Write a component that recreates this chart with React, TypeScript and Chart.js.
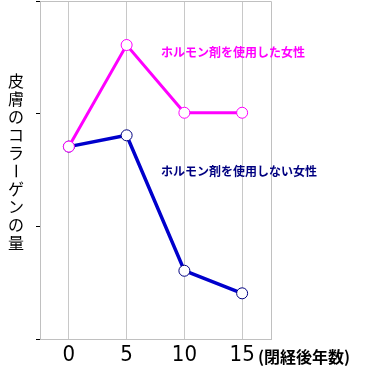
import React, { useEffect, useRef } from "react";
import { Chart, registerables } from "chart.js";

Chart.register(...registerables);

const years = ["0", "5", "10", "15"];
const withHormone = [1.71, 2.61, 2.01, 2.01];
const withoutHormone = [1.71, 1.81, 0.61, 0.41];
const yTicks = [0, 1, 2, 3];
const labelWith = "ホルモン剤を使用した女性";
const labelWithout = "ホルモン剤を使用しない女性";
const yTitle = "皮膚のコラーゲンの量";
const xTitle = "(閉経後年数)";

const JP = "'Noto Sans CJK JP', sans-serif";

const overlay = {
  id: "overlay",
  beforeDatasetsDraw(chart: any) {
    const { ctx, chartArea } = chart;
    ctx.save();
    ctx.strokeStyle = "#c0c0c0";
    ctx.lineWidth = 1;
    ctx.beginPath();
    ctx.moveTo(chartArea.left, Math.round(chartArea.top) + 0.5);
    ctx.lineTo(Math.round(chartArea.right) + 0.5, Math.round(chartArea.top) + 0.5);
    ctx.lineTo(Math.round(chartArea.right) + 0.5, chartArea.bottom);
    ctx.stroke();
    ctx.restore();
  },
  afterDraw(chart: any) {
    const { ctx } = chart;
    ctx.save();
    ctx.font = `bold 12px ${JP}`;
    ctx.textBaseline = "middle";
    ctx.textAlign = "left";
    ctx.fillStyle = "#ff00ff";
    ctx.fillText(labelWith, 161, 52);
    ctx.fillStyle = "#000080";
    ctx.fillText(labelWithout, 161, 171);

    ctx.fillStyle = "#000";
    ctx.font = `bold 16px ${JP}`;
    ctx.fillText(xTitle, 258, 357);

    ctx.font = `16px ${JP}`;
    ctx.textAlign = "center";
    const chars = Array.from(yTitle);
    chars.forEach((c, i) => {
      const y = 81 + i * 18;
      if (c === "ー") {
        ctx.save();
        ctx.translate(16, y);
        ctx.rotate(Math.PI / 2);
        ctx.fillText(c, 0, 0);
        ctx.restore();
      } else {
        ctx.fillText(c, 16, y);
      }
    });
    ctx.restore();
  },
};

export default function App() {
  const ref = useRef<HTMLCanvasElement>(null);
  useEffect(() => {
    document.body.style.margin = "0";
    const chart = new Chart(ref.current!, {
      type: "line",
      data: {
        labels: years,
        datasets: [
          {
            label: labelWith,
            data: withHormone,
            borderColor: "#ff00ff",
            borderWidth: 3,
            pointRadius: 5.5,
            pointBackgroundColor: "#ffffff",
            pointBorderColor: "#ff00ff",
            pointBorderWidth: 1,
            tension: 0,
          },
          {
            label: labelWithout,
            data: withoutHormone,
            borderColor: "#0000cc",
            borderWidth: 3.5,
            pointRadius: 5.5,
            pointBackgroundColor: "#ffffff",
            pointBorderColor: "#000080",
            pointBorderWidth: 1,
            tension: 0,
          },
        ],
      },
      options: {
        responsive: false,
        animation: false,
        layout: { autoPadding: false, padding: { left: 36, right: 116, top: 1, bottom: 1 } },
        plugins: { legend: { display: false }, tooltip: { enabled: false } },
        scales: {
          x: {
            type: "category",
            offset: true,
            grid: { offset: false, color: "#c8c8c8", drawTicks: false },
            border: { color: "#c0c0c0" },
            ticks: {
              padding: 2,
              color: "#000",
              font: { family: "'Liberation Sans Narrow', 'DejaVu Sans Condensed', sans-serif", size: 22 },
            },
          },
          y: {
            min: yTicks[0],
            max: yTicks[yTicks.length - 1],
            afterBuildTicks: (s: any) => {
              s.ticks = yTicks.map((v) => ({ value: v }));
            },
            grid: { drawOnChartArea: false, drawTicks: true, tickLength: 4, color: "#000" },
            border: { color: "#c0c0c0" },
            ticks: { display: false },
          },
        },
      },
      plugins: [overlay],
    });
    return () => chart.destroy();
  }, []);
  return <canvas ref={ref} width={387} height={371} style={{ display: "block" }} />;
}
